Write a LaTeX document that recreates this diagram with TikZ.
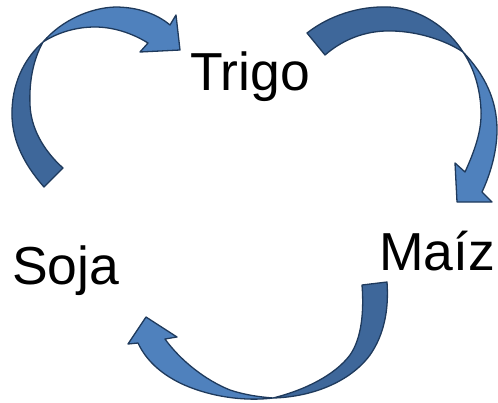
\documentclass[tikz,border=0pt]{standalone}
\usepackage{fontspec}
\setmainfont{Liberation Sans}
\definecolor{bandlight}{HTML}{4F81BD}
\definecolor{banddark}{HTML}{3E679A}
\definecolor{bandedge}{HTML}{1F3A5C}
\begin{document}
\begin{tikzpicture}[x=1pt,y=-1pt,
  back/.style={fill=banddark,draw=bandedge,line width=1.3pt,line join=round},
  front/.style={fill=bandlight,draw=bandedge,line width=1.3pt,line join=round},
  crop/.style={font=\fontsize{53.5}{60}\selectfont,inner sep=0pt,anchor=base west}]
\useasboundingbox (0,0) rectangle (498,402);

% crop labels
\node[crop] (trigo) at (190,90) {Trigo};
\node[crop] (soja)  at (12,284) {Soja};
\node[crop] (maiz)  at (379,270) {Maíz};

% curved arrow: Soja -> Trigo
\path[back] (44,187) .. controls (22,162) and (11,137) .. (12,110)
  .. controls (13,80) and (26,57) .. (43,42)
  .. controls (33,60) and (29,82) .. (30,105)
  .. controls (31,128) and (43,150) .. (63,168) -- cycle;
\path[front] (43,42) .. controls (62,20) and (90,8) .. (115,7)
  .. controls (138,7) and (157,14) .. (170,25)
  -- (176,15) -- (180,50) -- (140,52) -- (148,43)
  .. controls (132,33) and (113,27) .. (95,27)
  .. controls (75,27) and (57,33) .. (43,42) -- cycle;

% curved arrow: Trigo -> Maiz
\path[back] (307,33) .. controls (330,15) and (360,6) .. (388,7)
  .. controls (420,8) and (448,28) .. (463,52)
  .. controls (445,40) and (415,30) .. (385,31)
  .. controls (360,32) and (340,42) .. (325,55) -- cycle;
\path[front] (463,52) .. controls (485,75) and (497,100) .. (497,130)
  .. controls (497,152) and (490,175) .. (482,192)
  -- (492,202) -- (457,202) -- (455,163) -- (465,172)
  .. controls (475,150) and (482,130) .. (481,110)
  .. controls (480,88) and (474,68) .. (463,52) -- cycle;

% curved arrow: Maiz -> Soja
\path[back] (387,282) .. controls (389,310) and (384,335) .. (370,355)
  .. controls (350,382) and (312,397) .. (273,398)
  .. controls (305,390) and (335,375) .. (350,355)
  .. controls (362,338) and (364,310) .. (362,285) -- cycle;
\path[front] (273,398) .. controls (240,402) and (205,395) .. (180,383)
  .. controls (160,373) and (146,360) .. (138,343)
  -- (128,344) -- (146,317) -- (177,337) -- (165,339)
  .. controls (180,360) and (205,380) .. (230,390)
  .. controls (245,395) and (260,397) .. (273,398) -- cycle;
\end{tikzpicture}
\end{document}
